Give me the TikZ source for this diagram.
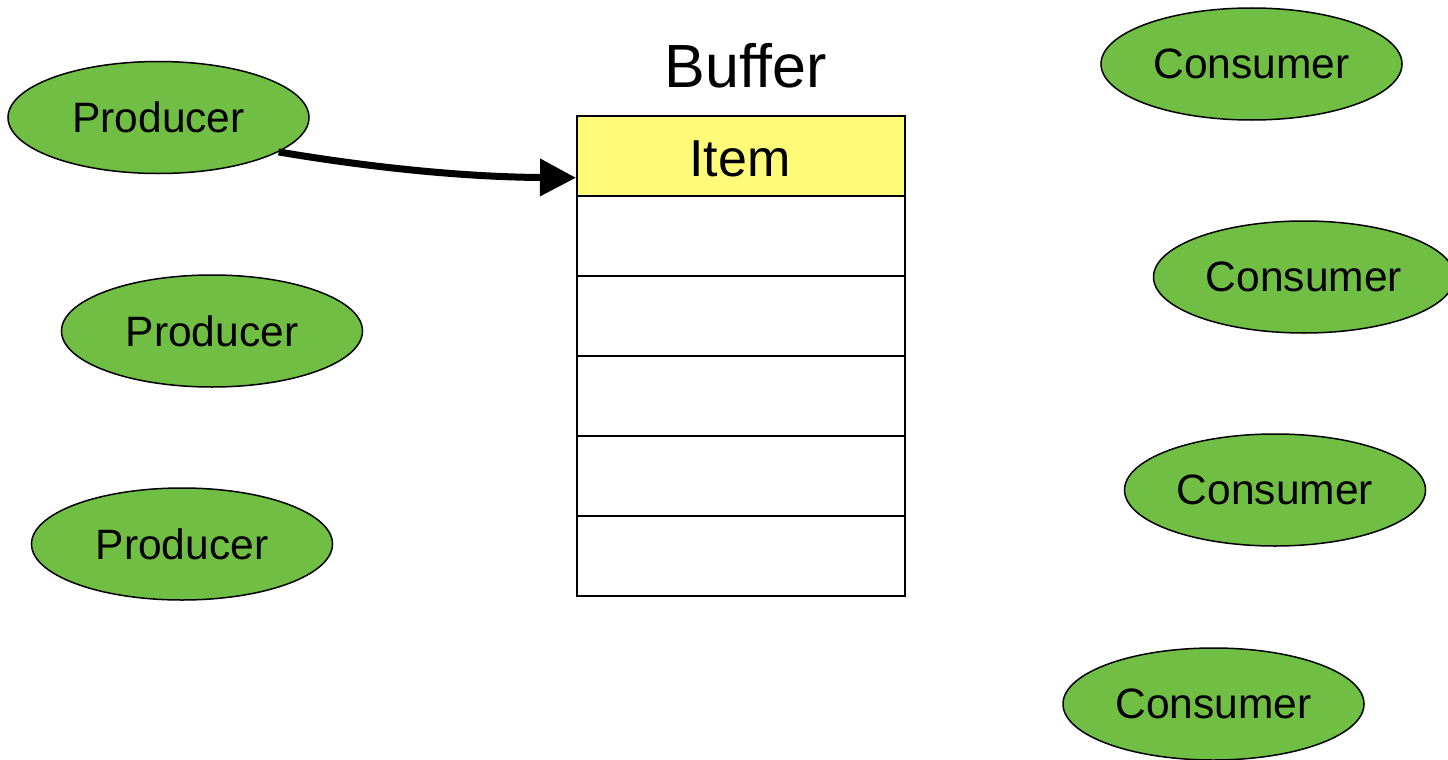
\documentclass[tikz,border=0pt]{standalone}
\usepackage{fontspec}
\setmainfont{Liberation Sans}
\usetikzlibrary{shapes.geometric,arrows.meta}
\definecolor{agent}{HTML}{70BF44}
\definecolor{itemfill}{HTML}{FFFA78}
\tikzset{
  agentnode/.style={ellipse, draw=black, line width=1.5pt, fill=agent,
    minimum width=301pt, minimum height=112pt, inner sep=0pt,
    font=\fontsize{42.5}{50}\selectfont},
  slot/.style={rectangle, draw=black, line width=1.5pt, fill=white,
    minimum width=328pt, minimum height=80pt, inner sep=0pt, anchor=north west},
  feed/.style={line width=7pt, -{Triangle[length=36pt,width=36pt]}}
}
\begin{document}
\begin{tikzpicture}[x=1pt,y=-1pt]
\useasboundingbox (0,0) rectangle (1448,760);
\begin{scope}
\clip (0,0) rectangle (1448,760);
% producers
\node[agentnode] (p1) at (158.5,117.5) {Producer};
\node[agentnode] (p2) at (212,331) {Producer};
\node[agentnode] (p3) at (182,544) {Producer};
% consumers
\node[agentnode] (c1) at (1251.5,64) {Consumer};
\node[agentnode] (c2) at (1304,277) {Consumer};
\node[agentnode] (c3) at (1275,490) {Consumer};
\node[agentnode] (c4) at (1213.5,704) {Consumer};
\end{scope}
% buffer slots
\node[slot, fill=itemfill] (item) at (576,115) {};
\node[font=\fontsize{52}{60}\selectfont, anchor=base] (itemtext) at (740,176) {Item};
\node[slot] (s1) at (576,195) {};
\node[slot] (s2) at (576,275) {};
\node[slot] (s3) at (576,355) {};
\node[slot] (s4) at (576,435) {};
\node[slot] (s5) at (576,515) {};
\node[font=\fontsize{61}{70}\selectfont, anchor=base] (title) at (745.5,87) {Buffer};
% producer putting an item into the buffer
\draw[feed] (p1.-16) .. controls (380,169) and (470,177) .. ([yshift=-22pt]item.west);
\end{tikzpicture}
\end{document}
